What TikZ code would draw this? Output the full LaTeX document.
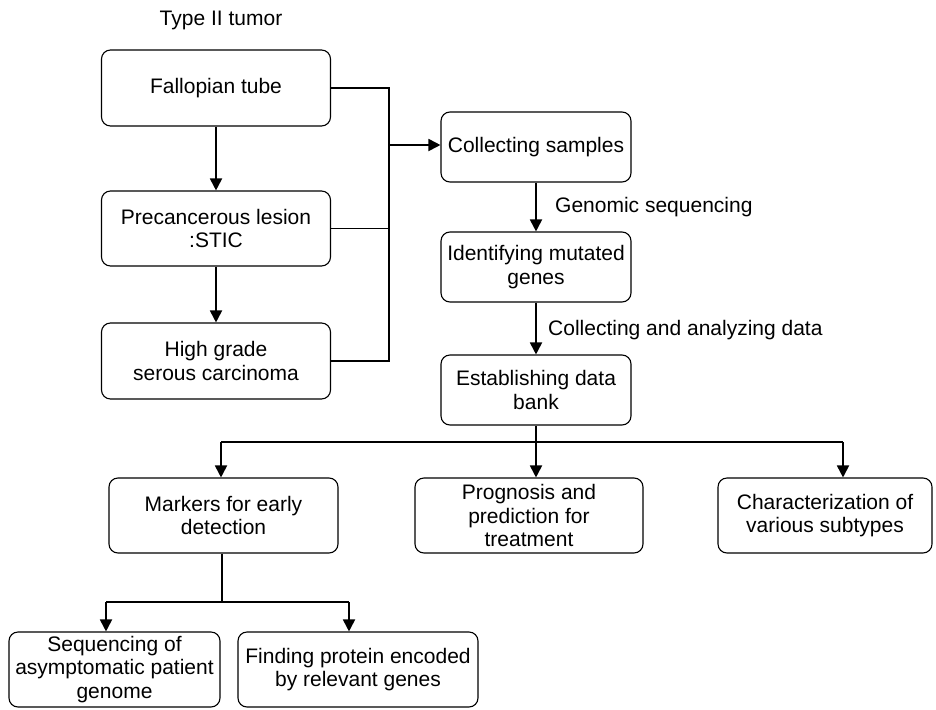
\documentclass[tikz,border=0pt]{standalone}
\usepackage{fontspec}
\setmainfont{Liberation Sans}
\usetikzlibrary{arrows.meta}
\begin{document}
\begin{tikzpicture}[x=1pt,y=-1pt,
  box/.style={draw=black,line width=1.1pt,rounded corners=9pt,align=center,
    inner sep=0pt,font=\fontsize{21}{23.5}\selectfont},
  lbl/.style={font=\fontsize{21}{23.5}\selectfont,inner sep=0pt},
  arr/.style={line width=1.8pt,-{Triangle[length=12pt,width=12pt]}},
  thick line/.style={line width=1.8pt},
  thin line/.style={line width=1.1pt}]
\useasboundingbox (0,0) rectangle (936,709);
\node[lbl] (title) at (221,20) {Type II tumor};
\node[box,minimum width=229pt,minimum height=76pt] (ft) at (216,88) {Fallopian tube};
\node[box,minimum width=229pt,minimum height=75pt] (pl) at (216,228.5) {Precancerous lesion\\:STIC};
\node[box,minimum width=229pt,minimum height=76pt] (hg) at (216,361) {High grade\\serous carcinoma};
\node[box,minimum width=190pt,minimum height=70pt] (cs) at (536,147) {Collecting samples};
\node[box,minimum width=190pt,minimum height=70pt] (im) at (536,267) {Identifying mutated\\genes};
\node[box,minimum width=190pt,minimum height=70pt] (ed) at (536,390) {Establishing data\\bank};
\node[box,minimum width=229pt,minimum height=75pt] (mk) at (223.5,515.5) {Markers for early\\detection};
\node[box,minimum width=228pt,minimum height=75pt] (pp) at (529,515.5) {Prognosis and\\prediction for\\treatment};
\node[box,minimum width=214pt,minimum height=75pt] (cv) at (825,515.5) {Characterization of\\various subtypes};
\node[box,minimum width=211pt,minimum height=75pt] (sq) at (114.5,669.5) {Sequencing of\\asymptomatic patient\\genome};
\node[box,minimum width=240pt,minimum height=75pt] (fp) at (358,669.5) {Finding protein encoded\\by relevant genes};
% left column
\draw[arr] (ft) -- (pl);
\draw[arr] (pl) -- (hg);
\coordinate (bus) at (389,145);
\draw[thick line] (ft.east) -| (bus |- pl.east);
\draw[thin line] (pl.east) -- (bus |- pl.east);
\draw[thin line] (hg.east) -| (bus |- pl.east);
\draw[arr] (bus) -- (bus -| cs.west);
% right column
\draw[arr] (cs) -- (im);
\node[lbl,anchor=west] (gs) at (555,207) {Genomic sequencing};
\draw[arr] (im) -- (ed);
\node[lbl,anchor=west] (ca) at (548,330) {Collecting and analyzing data};
% branch
\coordinate (b1) at (221,442);
\coordinate (b2) at (536,442);
\coordinate (b3) at (843,442);
\draw[thick line] (ed.south) -- (b2);
\draw[thick line] (b1) -- (b3);
\draw[arr] (b1) -- (b1 |- mk.north);
\draw[arr] (b2) -- (b2 |- pp.north);
\draw[arr] (b3) -- (b3 |- cv.north);
% markers branch
\coordinate (m0) at (222,602);
\coordinate (m1) at (106,602);
\coordinate (m2) at (349,602);
\draw[thin line] (m0 |- mk.south) -- (m0);
\draw[thick line] (m1) -- (m2);
\draw[arr] (m1) -- (m1 |- sq.north);
\draw[arr] (m2) -- (m2 |- fp.north);
\end{tikzpicture}
\end{document}
